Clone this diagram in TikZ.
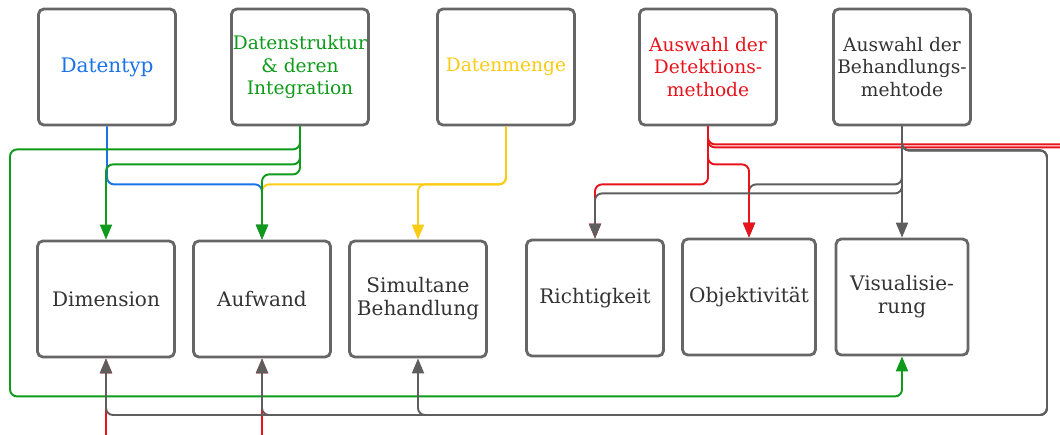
\documentclass[tikz,border=0pt]{standalone}
\usepackage{fontspec}
\setmainfont{DejaVu Serif}
\usetikzlibrary{arrows.meta}

\definecolor{cblue}{HTML}{1A73E8}
\definecolor{cgreen}{HTML}{0E9A1A}
\definecolor{cyellow}{HTML}{FCCB14}
\definecolor{cred}{HTML}{E8141C}
\definecolor{cgray}{HTML}{5E5E5E}
\definecolor{boxgray}{HTML}{666666}
\definecolor{txtgray}{HTML}{333333}

\begin{document}
\begin{tikzpicture}[
  x=0.02cm, y=-0.02cm,
  box/.style={draw=boxgray, line width=1.6pt, rounded corners=3pt,
    minimum width=2.74cm, minimum height=2.32cm, inner sep=0pt,
    align=center, text=txtgray, font=\fontsize{10.6}{12.6}\selectfont},
  bigbox/.style={box, font=\fontsize{11.4}{13.2}\selectfont},
  conn/.style={line width=1.1pt, rounded corners=4pt},
  arr/.style={conn, -{Triangle[length=8.5pt,width=6.8pt]}}
]
\useasboundingbox (0,0) rectangle (1060,434);
\clip (0,0) rectangle (1060,434);

% ---- top row: Einflussgroessen ----
\node[bigbox, text=cblue] (dtyp) at (107,67) {Datentyp};
\node[box, text=cgreen]   (dstr) at (300,67) {Datenstruktur\\\& deren\\Integration};
\node[box, text=cyellow]  (dmen) at (506,67) {Datenmenge};
\node[box, text=cred]     (adet) at (708,67) {Auswahl der\\Detektions-\\methode};
\node[box]                (abeh) at (902,67) {Auswahl der\\Behandlungs-\\mehtode};

% ---- bottom row: Kriterien ----
\node[bigbox] (dim)   at (106,299) {Dimension};
\node[bigbox] (auf)   at (262,299) {Aufwand};
\node[bigbox] (sim)   at (418,299) {Simultane\\Behandlung};
\node[bigbox] (richt) at (595,298) {Richtigkeit};
\node[bigbox, minimum width=2.66cm] (obj) at (749,297) {Objektivität};
\node[bigbox, minimum width=2.64cm] (vis) at (902,297) {Visualisie-\\rung};

% Datenmenge
\draw[arr, cyellow] (dmen.south) -- ++(0,58) -| (auf.north);
\draw[arr, cyellow] (dmen.south) -- ++(0,58) -| (sim.north);

% Datentyp
\draw[arr, cblue] (dtyp.south) -- ++(0,58) -| (auf.north);

% Datenstruktur
\draw[arr, cgreen] (dstr.south) -- ++(0,23) -| ++(-290,247) -| (vis.south);
\draw[arr, cgreen] (dstr.south) -- ++(0,38) -| (dim.north);
\draw[arr, cgreen] (dstr.south) -- ++(0,48) -| (auf.north);

% Behandlungsmethode -> Objektivitaet (unter Rot)
\draw[arr, cgray] (abeh.south) -- ++(0,58) -| (obj.north);

% Detektionsmethode
\draw[arr, cred] (adet.south) -- ++(0,18) -| (1078,452) -| (dim.south);
\draw[arr, cred] (adet.south) -- ++(0,21) -| (1074,448) -| (auf.south);
\draw[arr, cred] (adet.south) -- ++(0,58) -| (richt.north);
\draw[arr, cred] (adet.south) -- ++(0,38) -| (obj.north);

% Behandlungsmethode
\draw[arr, cgray] (abeh.south) -- (vis.north);
\draw[arr, cgray] (abeh.south) -- ++(0,67) -| (richt.north);
\draw[arr, cgray] (abeh.south) -- ++(0,24) -| (1047,415) -| (dim.south);
\draw[arr, cgray] (abeh.south) -- ++(0,24) -| (1047,415) -| (auf.south);
\draw[arr, cgray] (abeh.south) -- ++(0,24) -| (1047,415) -| (sim.south);
\end{tikzpicture}
\end{document}
